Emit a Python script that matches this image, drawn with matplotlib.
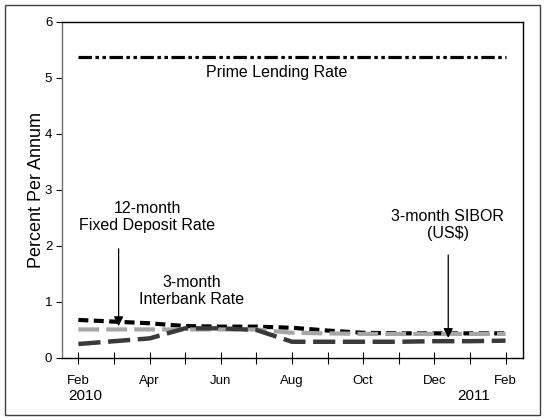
import numpy as np
import matplotlib
matplotlib.use('Agg')
from matplotlib import pyplot as plt
from matplotlib.patches import Rectangle

plt.rcParams['font.family'] = ['Liberation Sans', 'DejaVu Sans']

# months Feb 2010 .. Feb 2011
months = ['Feb', 'Mar', 'Apr', 'May', 'Jun', 'Jul', 'Aug', 'Sep', 'Oct', 'Nov', 'Dec', 'Jan', 'Feb']
prime_lending = [5.38, 5.38, 5.38, 5.38, 5.38, 5.38, 5.38, 5.38, 5.38, 5.38, 5.38, 5.38, 5.38]
interbank_3m = [0.68, 0.65, 0.62, 0.57, 0.56, 0.56, 0.54, 0.49, 0.45, 0.44, 0.44, 0.44, 0.44]
fixed_dep_12m = [0.51, 0.51, 0.51, 0.51, 0.51, 0.51, 0.45, 0.44, 0.43, 0.43, 0.43, 0.43, 0.43]
sibor_3m = [0.25, 0.30, 0.35, 0.53, 0.53, 0.50, 0.29, 0.29, 0.29, 0.29, 0.30, 0.30, 0.31]
yticks = [0, 1, 2, 3, 4, 5, 6]

x = np.arange(len(months))

fig = plt.figure(figsize=(5.45, 4.2), dpi=100)
ax = fig.add_axes([62/545, 1-358/420, (523-62)/545, (358-22)/420])

# outer frame
fig.patches.append(Rectangle((5/545, 5/420), 535/545, 410/420, transform=fig.transFigure,
                             fill=False, edgecolor='#404040', lw=1))

ax.plot(x, prime_lending, color='black', lw=2.3, linestyle=(0, (4.2, 1.1, 1.1, 1.1, 1.1, 1.1)))
ax.plot(x, interbank_3m, color='black', lw=3.0, linestyle=(0, (2.4, 1.3)))
ax.plot(x, fixed_dep_12m, color='#a6a6a6', lw=3.0, linestyle=(0, (5.0, 1.7)))
ax.plot(x, sibor_3m, color='#3a3a3a', lw=3.2, linestyle=(0, (5.0, 1.7)))

ax.set_xlim(-0.46, 12.49)
ax.set_ylim(0, 6)
ax.set_xticks(x)
ax.set_xticklabels([m if i % 2 == 0 else '' for i, m in enumerate(months)], fontsize=9.5)
ax.set_yticks(yticks)
ax.set_yticklabels([str(v) for v in yticks], fontsize=9.5)
ax.tick_params(axis='x', direction='inout', length=8, width=0.8, pad=8)
ax.tick_params(axis='y', direction='out', length=4, width=0.8, pad=3)
ax.set_ylabel('Percent Per Annum', fontsize=13, labelpad=0)

ax.text(0.2, -0.68, '2010', ha='center', va='center', fontsize=11, clip_on=False)
ax.text(11.1, -0.68, '2011', ha='center', va='center', fontsize=11, clip_on=False)

ax.spines['left'].set_color('#707070')
for sp in ax.spines.values():
    sp.set_linewidth(1)

ax.text(5.58, 5.1, 'Prime Lending Rate', ha='center', va='center', fontsize=11.5)
ax.text(1.93, 2.52, '12-month\nFixed Deposit Rate', ha='center', va='center', fontsize=11.5, linespacing=1.2)
ax.text(3.19, 1.2, '3-month\nInterbank Rate', ha='center', va='center', fontsize=11.5, linespacing=1.2)
ax.text(10.38, 2.38, '3-month SIBOR\n(US$)', ha='center', va='center', fontsize=11.5, linespacing=1.2)

ax.annotate('', xy=(1.13, 0.52), xytext=(1.13, 2.0),
            arrowprops=dict(arrowstyle='-|>', color='black', lw=0.9, mutation_scale=14))
ax.annotate('', xy=(10.39, 0.31), xytext=(10.39, 1.89),
            arrowprops=dict(arrowstyle='-|>', color='black', lw=0.9, mutation_scale=14))

fig.savefig('out.png', dpi=100)
